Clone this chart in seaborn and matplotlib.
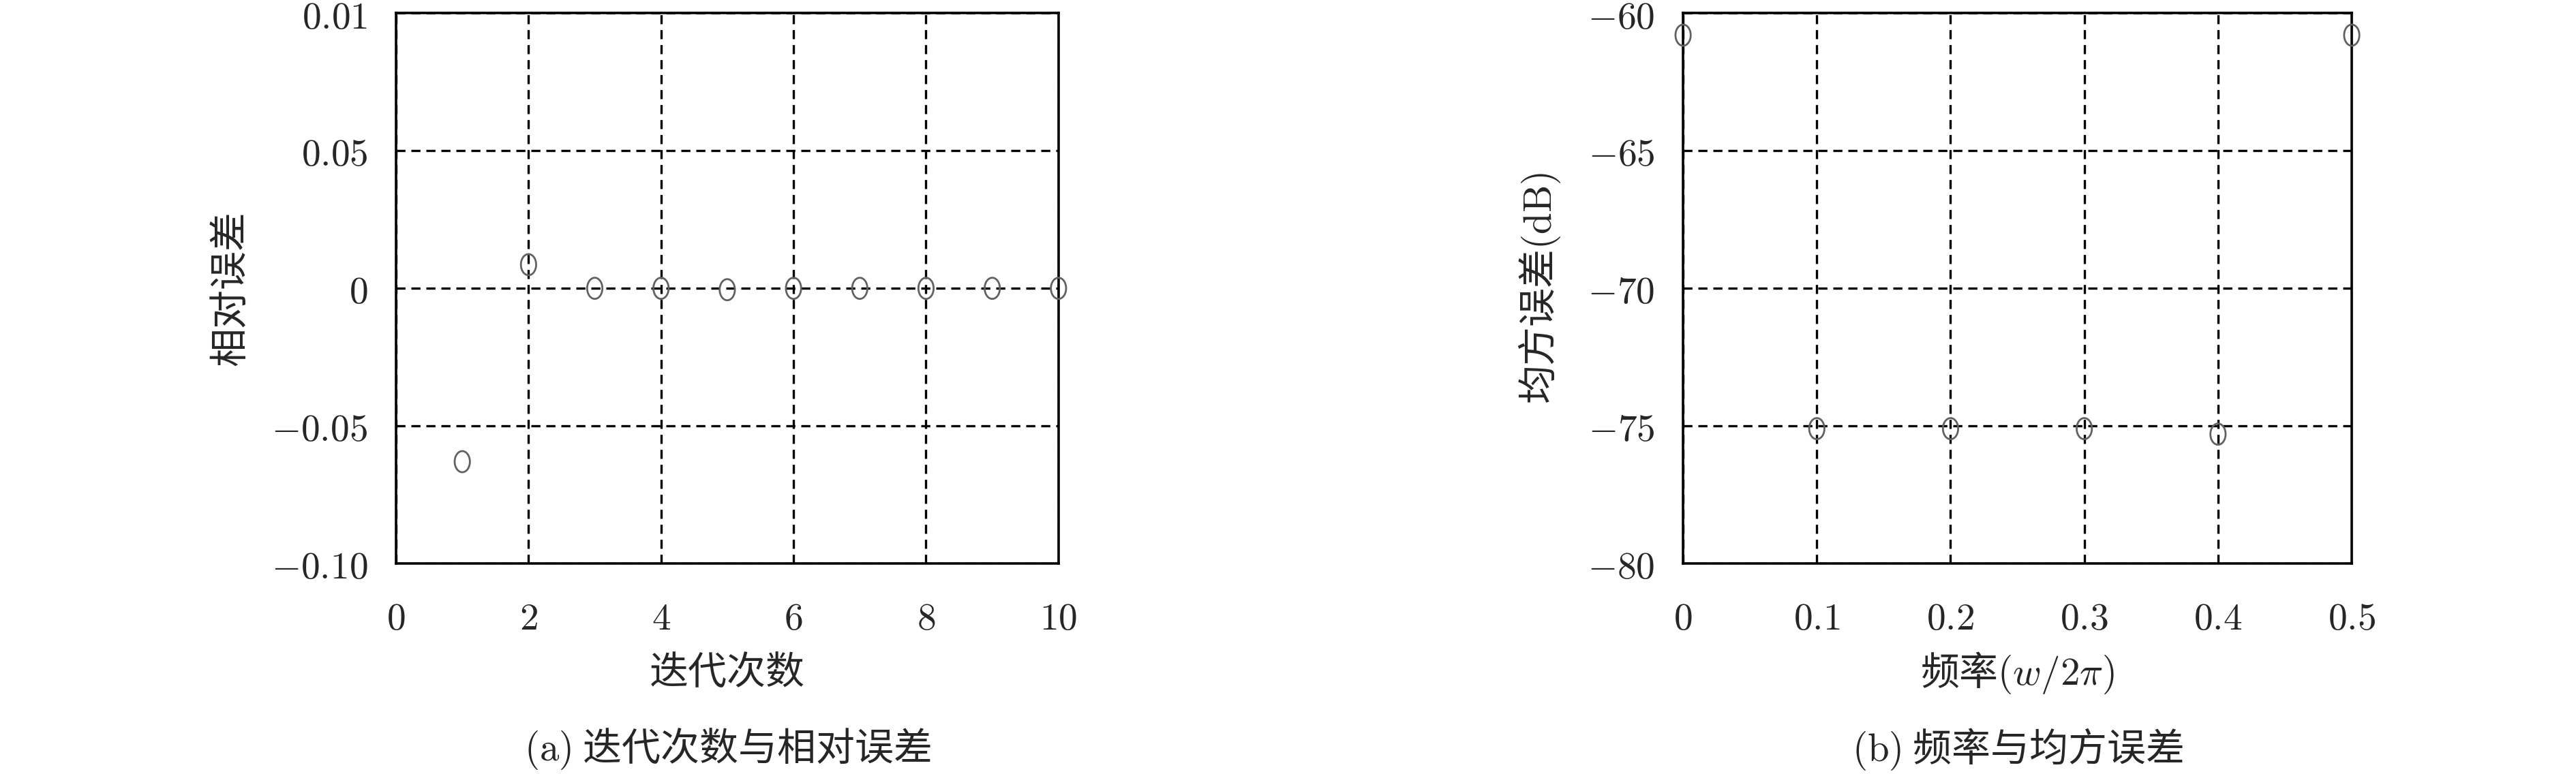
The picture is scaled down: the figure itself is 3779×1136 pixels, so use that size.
import numpy as np
import pandas as pd
import matplotlib
matplotlib.use("Agg")
import matplotlib.pyplot as plt
from matplotlib.path import Path
import seaborn as sns

# data
iterations = [1, 2, 3, 4, 5, 6, 7, 8, 9, 10]
rel_error = [-0.063, 0.0086, 0.0, 0.0, -0.0005, 0.0, 0.0, 0.0, 0.0, 0.0]

freqs = [0.0, 0.1, 0.2, 0.3, 0.4, 0.5]
mse_db = [-60.8, -75.1, -75.1, -75.1, -75.3, -60.8]

left_xticks = [0, 2, 4, 6, 8, 10]
left_yticks = [-0.10, -0.05, 0, 0.05, 0.10]
left_yticklabels = ["-0.10", "-0.05", "0", "0.05", "0.01"]
right_xticks = [0, 0.1, 0.2, 0.3, 0.4, 0.5]
right_xticklabels = ["0", "0.1", "0.2", "0.3", "0.4", "0.5"]
right_yticks = [-80, -75, -70, -65, -60]

sns.set_style("white")
plt.rcParams['font.family'] = ['Noto Sans CJK SC', 'DejaVu Sans']
plt.rcParams['mathtext.fontset'] = 'cm'
plt.rcParams['axes.unicode_minus'] = True

FS = 40      # numbers
FS_CJK = 41  # chinese labels

# slightly tall ellipse marker, like the reference's open circles
t = np.linspace(0, 2 * np.pi, 41)
ellipse = Path(np.column_stack([0.72 * np.cos(t), np.sin(t)]), closed=True)


def math(s):
    return "$" + s + "$"


def style_axes(ax, xticks, xlabels, yticks, ylabels, xlim, ylim):
    ax.set_xlim(*xlim)
    ax.set_ylim(*ylim)
    ax.set_xticks(xticks)
    ax.set_xticklabels([math(s) for s in xlabels], fontsize=FS)
    ax.set_yticks(yticks)
    ax.set_yticklabels([math(s) for s in ylabels], fontsize=FS)
    ax.tick_params(axis='x', length=0, pad=38)
    ax.tick_params(axis='y', length=0, pad=30)
    ax.grid(True, color='black', linestyle=(0, (4, 2.6)), linewidth=2.4)
    for sp in ax.spines.values():
        sp.set_visible(True)
        sp.set_color('black')
        sp.set_linewidth(2.6)
    ax.set_axisbelow(True)


fig = plt.figure(figsize=(37.8, 11.36), dpi=100)
ax1 = fig.add_axes([0.1537, 0.272, 0.2571, 0.711])
ax2 = fig.add_axes([0.6532, 0.272, 0.2595, 0.711])

df1 = pd.DataFrame({"iter": iterations, "err": rel_error})
df2 = pd.DataFrame({"freq": freqs, "mse": mse_db})

sns.scatterplot(data=df1, x="iter", y="err", ax=ax1, marker=ellipse, s=500,
                facecolors='none', edgecolor='0.38', linewidth=2.0, clip_on=False, zorder=5)
sns.scatterplot(data=df2, x="freq", y="mse", ax=ax2, marker=ellipse, s=500,
                facecolors='none', edgecolor='0.38', linewidth=2.0, clip_on=False, zorder=5)

style_axes(ax1, left_xticks, [str(v) for v in left_xticks], left_yticks, left_yticklabels,
           (0, 10), (-0.10, 0.10))
style_axes(ax2, right_xticks, right_xticklabels, right_yticks, [str(v) for v in right_yticks],
           (0, 0.5), (-80, -60))

ax1.set_xlabel("迭代次数", fontsize=FS_CJK, va='center')
ax1.set_ylabel("相对误差", fontsize=FS_CJK, va='center')
ax1.xaxis.set_label_coords(0.5, -0.199)
ax1.yaxis.set_label_coords(-0.25, 0.5)

ax2.set_xlabel("频率$(w/2\\pi)$", fontsize=FS_CJK, va='center')
ax2.set_ylabel("均方误差$\\mathrm{(dB)}$", fontsize=FS_CJK, va='center')
ax2.xaxis.set_label_coords(0.5, -0.199)
ax2.yaxis.set_label_coords(-0.214, 0.5)

fig.text(0.1537 + 0.2571 / 2, 0.032, "$\\mathrm{(a)}$ 迭代次数与相对误差",
         fontsize=FS_CJK, ha='center', va='center')
fig.text(0.6532 + 0.2595 / 2, 0.032, "$\\mathrm{(b)}$ 频率与均方误差",
         fontsize=FS_CJK, ha='center', va='center')

fig.savefig("out.png", dpi=100, facecolor='white')
